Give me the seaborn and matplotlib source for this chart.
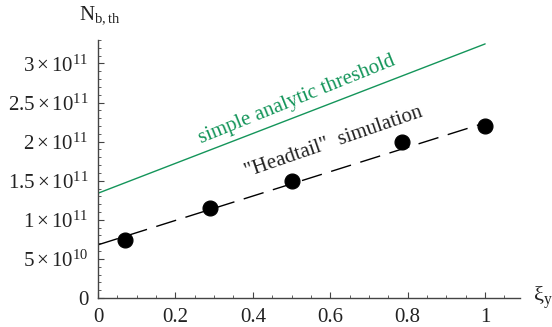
import numpy as np
import pandas as pd
import matplotlib
matplotlib.use("Agg")
import matplotlib.pyplot as plt
import seaborn as sns
from matplotlib.ticker import MultipleLocator, FuncFormatter

sns.set_theme(style="ticks")
plt.rcParams['font.family'] = ['Liberation Serif', 'DejaVu Serif']
plt.rcParams['mathtext.fontset'] = 'custom'
plt.rcParams['mathtext.rm'] = 'Liberation Serif'
plt.rcParams['mathtext.it'] = 'Liberation Serif:italic'

# Data
sim_xi = [0.07, 0.29, 0.50, 0.785, 1.0]
sim_n = [7.4e10, 1.15e11, 1.5e11, 2.0e11, 2.2e11]
fit_xi = [0.0, 1.0]
fit_n = [6.8e10, 2.24e11]
ana_xi = [0.0, 1.0]
ana_n = [1.34e11, 3.25e11]
y_ticks = [0, 5e10, 1e11, 1.5e11, 2e11, 2.5e11, 3e11]
x_ticks = [0, 0.2, 0.4, 0.6, 0.8, 1.0]

green = '#14955a'

fig = plt.figure(figsize=(5.52, 3.27), dpi=100)
ax = fig.add_axes([0.1775, 0.0887, 0.7645, 0.789])

sns.lineplot(x=ana_xi, y=ana_n, ax=ax, color=green, lw=1.0)
sns.lineplot(x=fit_xi, y=fit_n, ax=ax, color='black', lw=1.0)
ax.lines[-1].set_dashes((15, 7))
sns.scatterplot(x=sim_xi, y=sim_n, ax=ax, color='black', s=115, edgecolor='black', zorder=5)

ax.set_xlim(0, 1.09)
ax.set_ylim(0, 3.3e11)
ax.set_xticks(x_ticks)
ax.set_yticks(y_ticks)
ax.xaxis.set_minor_locator(MultipleLocator(0.05))
ax.yaxis.set_minor_locator(MultipleLocator(1e10))

def xfmt(v, p):
    if abs(v) < 1e-9:
        return '0'
    if abs(v - 1) < 1e-9:
        return '1'
    return f'{v:.1f}'

def yfmt(v, p):
    if v == 0:
        return '0'
    e = int(np.floor(np.log10(v)))
    m = v / 10**e
    ms = f'{m:g}'
    return r'$\mathrm{' + ms + r'}\times 10^{' + str(e) + '}$'

ax.xaxis.set_major_formatter(FuncFormatter(xfmt))
ax.yaxis.set_major_formatter(FuncFormatter(yfmt))

for s in ['top', 'right']:
    ax.spines[s].set_visible(False)
for s in ['left', 'bottom']:
    ax.spines[s].set_color('#444444')
    ax.spines[s].set_linewidth(1.0)

ax.tick_params(which='both', direction='in', color='#444444', labelsize=15, labelcolor='#222222')
ax.tick_params(which='major', length=4, width=0.8, pad=7)
ax.tick_params(which='minor', length=2, width=0.6)

ax.text(1.03, 0.0, r'$\mathrm{\xi_y}$', transform=ax.transAxes, fontsize=16, ha='left', va='center', color='#222222')
ax.text(0.005, 1.095, r'$\mathrm{N_{b,th}}$', transform=ax.transAxes, fontsize=15, ha='center', va='center', color='#222222')

ax.text(0.515, 2.53e11, 'simple analytic threshold', color=green, fontsize=15,
        rotation=22, rotation_mode='anchor', ha='center', va='center')
ax.text(0.61, 1.99e11, '"Headtail"  simulation', color='#222222', fontsize=15,
        rotation=19, rotation_mode='anchor', ha='center', va='center')

ax.set_xlabel('')
ax.set_ylabel('')
fig.savefig('out.png', dpi=100)
